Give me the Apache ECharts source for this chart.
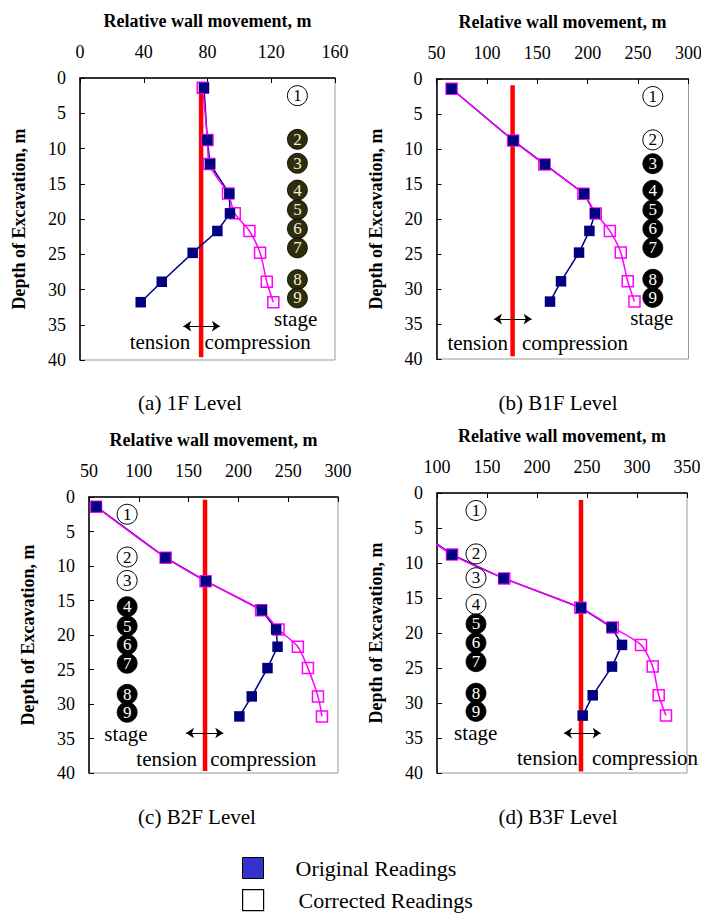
<!DOCTYPE html>
<html>
<head>
<meta charset="utf-8">
<title>Relative wall movement</title>
<script src="https://cdn.jsdelivr.net/npm/echarts@6/dist/echarts.min.js"></script>
<style>
  html, body { margin: 0; padding: 0; background: #fff; }
  #chart { width: 701px; height: 913px; }
</style>
</head>
<body>
<div id="chart"></div>
<script>
// depth of each reading, m
const depths = [1.4, 8.8, 12.2, 16.4, 19.2, 21.7, 24.8, 28.9, 31.8];
// excavation stages
const stageLabels = ['1', '2', '3', '4', '5', '6', '7', '8', '9'];
const stageDepths = [2.5, 8.7, 12.1, 15.9, 18.7, 21.4, 24.1, 28.6, 31.2];

// relative wall movement, one array per level
const orig1F  = [77.8, 79.9, 81.6, 93.7, 94.1, 86.2, 70.7, 51.3, 38.1];
const corr1F  = [77.0, 80.0, 81.0, 92.9, 97.1, 106.3, 113.0, 117.2, 121.3];
const origB1F = [64.9, 126.2, 157.6, 196.4, 207.3, 201.7, 191.4, 173.5, 162.6];
const corrB1F = [65.0, 126.0, 157.0, 195.7, 208.0, 222.0, 232.8, 239.7, 246.4];
const origB2F = [57.4, 126.8, 167.4, 223.5, 237.9, 239.3, 229.2, 213.4, 201.0];
const corrB2F = [57.0, 127.0, 167.0, 222.8, 240.3, 259.7, 269.8, 279.9, 283.9];
const origB3F = [43.0, 115.0, 166.7, 244.0, 274.7, 285.0, 275.0, 255.7, 245.7];
const corrB3F = [43.0, 115.0, 167.3, 243.3, 275.7, 304.0, 315.7, 321.7, 329.0];

// reference (zero) line of each level
const zeroLines = [76, 125.5, 166.5, 244];
const zeroSpans = [[1, 39.6], [0.9, 39.6], [0.4, 39.7], [1, 39.8]];

// axis ticks
const xMins = [0, 50, 50, 100];
const xMaxs = [160, 300, 300, 350];
const xSteps = [40, 50, 50, 50];
const yTicks = { min: 0, max: 40, step: 5 };

// stage markers: column position and how many stages are open circles
const stageX = [136.4, 264.6, 88.3, 139];
const hollowCount = [1, 2, 3, 4];

const captions = ['(a) 1F Level', '(b) B1F Level', '(c) B2F Level', '(d) B3F Level'];

const serif = 'Liberation Serif';
const navy = '#000080';
const magenta = '#ff00ff';

const panels = [
  { orig: orig1F, corr: corr1F, grid: { left: 80, top: 78, width: 255, height: 282 },
    cap: [190, 403], stageFill: '#302d0c', stageText: '#f2f0d8',
    note: { stage: [135.3, 34.2], tension: [50.2, 37.5], compression: [111.5, 37.5], arrow: [64.8, 87.8, 35.2] } },
  { orig: origB1F, corr: corrB1F, grid: { left: 436.5, top: 79, width: 252, height: 280 },
    cap: [558, 403], stageFill: '#000', stageText: '#fff',
    note: { stage: [263.5, 34.2], tension: [90.9, 37.7], compression: [187.4, 37.7], arrow: [107, 144.4, 34.3] } },
  { orig: origB2F, corr: corrB2F, grid: { left: 89, top: 497, width: 249, height: 276 },
    cap: [197, 817], stageFill: '#000', stageText: '#fff',
    note: { stage: [87.1, 34.3], tension: [128, 37.9], compression: [225, 37.9], arrow: [147.4, 184.8, 34.2] } },
  { orig: origB3F, corr: corrB3F, grid: { left: 437, top: 493, width: 250, height: 280 },
    cap: [558, 817], stageFill: '#000', stageText: '#fff',
    note: { stage: [138.7, 34.3], tension: [210.3, 37.9], compression: [308, 37.9], arrow: [227, 263.7, 34.3] } }
];

const pairs = (xs) => xs.map((x, k) => [x, depths[k]]);

const chart = echarts.init(document.getElementById('chart'), null, { renderer: 'svg' });

const grids = [], xAxes = [], yAxes = [], series = [];

panels.forEach((p, i) => {
  grids.push(Object.assign({ show: true, borderColor: '#999', borderWidth: 1, outerBoundsMode: 'none' }, p.grid));

  xAxes.push({
    gridIndex: i, type: 'value', position: 'top',
    min: xMins[i], max: xMaxs[i], interval: xSteps[i],
    name: 'Relative wall movement, m', nameLocation: 'middle', nameGap: 48,
    nameTextStyle: { fontFamily: serif, fontWeight: 'bold', fontSize: 18, color: '#000' },
    axisLine: { show: true, onZero: false, lineStyle: { color: '#000', width: 1.5 } },
    axisTick: { show: true, inside: true, length: 5, lineStyle: { color: '#000' } },
    axisLabel: { margin: 17, fontFamily: serif, fontSize: 18, color: '#000' },
    splitLine: { show: false }
  });

  yAxes.push({
    gridIndex: i, type: 'value', position: 'left', inverse: true,
    min: yTicks.min, max: yTicks.max, interval: yTicks.step,
    name: 'Depth of Excavation, m', nameLocation: 'middle', nameGap: 52,
    nameTextStyle: { fontFamily: serif, fontWeight: 'bold', fontSize: 18, color: '#000' },
    axisLine: { show: true, onZero: false, lineStyle: { color: '#000', width: 1.5 } },
    axisTick: { show: true, inside: true, length: 5, lineStyle: { color: '#000' } },
    axisLabel: { margin: 14, fontFamily: serif, fontSize: 18, color: '#000' },
    splitLine: { show: false }
  });

  // red reference line + tension/compression arrow
  series.push({
    type: 'line', name: 'zero', xAxisIndex: i, yAxisIndex: i,
    data: zeroSpans[i].map((d) => [zeroLines[i], d]),
    symbol: 'none', silent: true, z: 1,
    lineStyle: { color: '#ff0000', width: 4.5 },
    markLine: {
      silent: true, symbol: ['arrow', 'arrow'], symbolSize: 8,
      label: { show: false },
      lineStyle: { color: '#000', width: 1.2, type: 'solid' },
      data: [[{ coord: [p.note.arrow[0], p.note.arrow[2]] }, { coord: [p.note.arrow[1], p.note.arrow[2]] }]]
    }
  });

  series.push({
    type: 'line', name: 'Original Readings', xAxisIndex: i, yAxisIndex: i,
    data: pairs(p.orig), symbol: 'none', z: 2,
    lineStyle: { color: navy, width: 1.5 }
  });

  series.push({
    type: 'line', name: 'Corrected Readings', xAxisIndex: i, yAxisIndex: i,
    data: pairs(p.corr), smooth: 0.25, z: 3,
    symbol: 'rect', symbolSize: 11, showAllSymbol: true,
    itemStyle: { color: 'rgba(255,255,255,0)', borderColor: magenta, borderWidth: 1.5, opacity: 1 },
    lineStyle: { color: magenta, width: 1.5 }
  });

  series.push({
    type: 'scatter', name: 'Original Readings', xAxisIndex: i, yAxisIndex: i,
    data: pairs(p.orig), symbol: 'rect', symbolSize: 10.5, z: 4,
    itemStyle: { color: navy, opacity: 1 }
  });

  series.push({
    type: 'scatter', name: 'stage', xAxisIndex: i, yAxisIndex: i,
    symbol: 'circle', symbolSize: 20, silent: true, z: 5,
    data: stageDepths.map((d, k) => ({
      value: [stageX[i], d],
      name: stageLabels[k],
      itemStyle: k < hollowCount[i]
        ? { color: '#fff', borderColor: '#000', borderWidth: 1, opacity: 1 }
        : { color: p.stageFill, borderColor: '#000', borderWidth: 0.8, opacity: 1 },
      label: { color: k < hollowCount[i] ? '#000' : p.stageText }
    })),
    label: { show: true, position: 'inside', formatter: '{b}', fontFamily: serif, fontSize: 17 }
  });
});

const legendBase = {
  orient: 'vertical', itemWidth: 21, itemHeight: 21, selectedMode: false,
  textStyle: { fontFamily: serif, fontSize: 22, color: '#000', padding: [0, 0, 0, 27] }
};

chart.setOption({
  animation: false,
  backgroundColor: '#fff',
  grid: grids,
  xAxis: xAxes,
  yAxis: yAxes,
  series: series,
  legend: [
    Object.assign({}, legendBase, {
      left: 237, top: 852,
      data: [{ name: 'Original Readings', icon: 'rect', itemStyle: { color: '#3333cc', borderColor: '#000', borderWidth: 1 } }]
    }),
    Object.assign({}, legendBase, {
      left: 237, top: 884,
      textStyle: Object.assign({}, legendBase.textStyle, { padding: [0, 0, 0, 30] }),
      data: [{ name: 'Corrected Readings', icon: 'rect', itemStyle: { color: '#fff', borderColor: '#000', borderWidth: 1.2 } }]
    })
  ]
});

// text notes, placed through each panel's own scales
const txt = (x, y, text, size) => ({
  type: 'text', x: x, y: y, silent: true,
  style: { text: text, fontFamily: serif, fontSize: size, fill: '#000', align: 'center', verticalAlign: 'middle' }
});

const graphics = [];
panels.forEach((p, i) => {
  ['stage', 'tension', 'compression'].forEach((key) => {
    const pt = chart.convertToPixel({ gridIndex: i }, p.note[key]);
    graphics.push(txt(pt[0], pt[1], key, 21));
  });
  graphics.push(txt(p.cap[0], p.cap[1], captions[i], 21));
});

chart.setOption({ graphic: graphics });
</script>
</body>
</html>
